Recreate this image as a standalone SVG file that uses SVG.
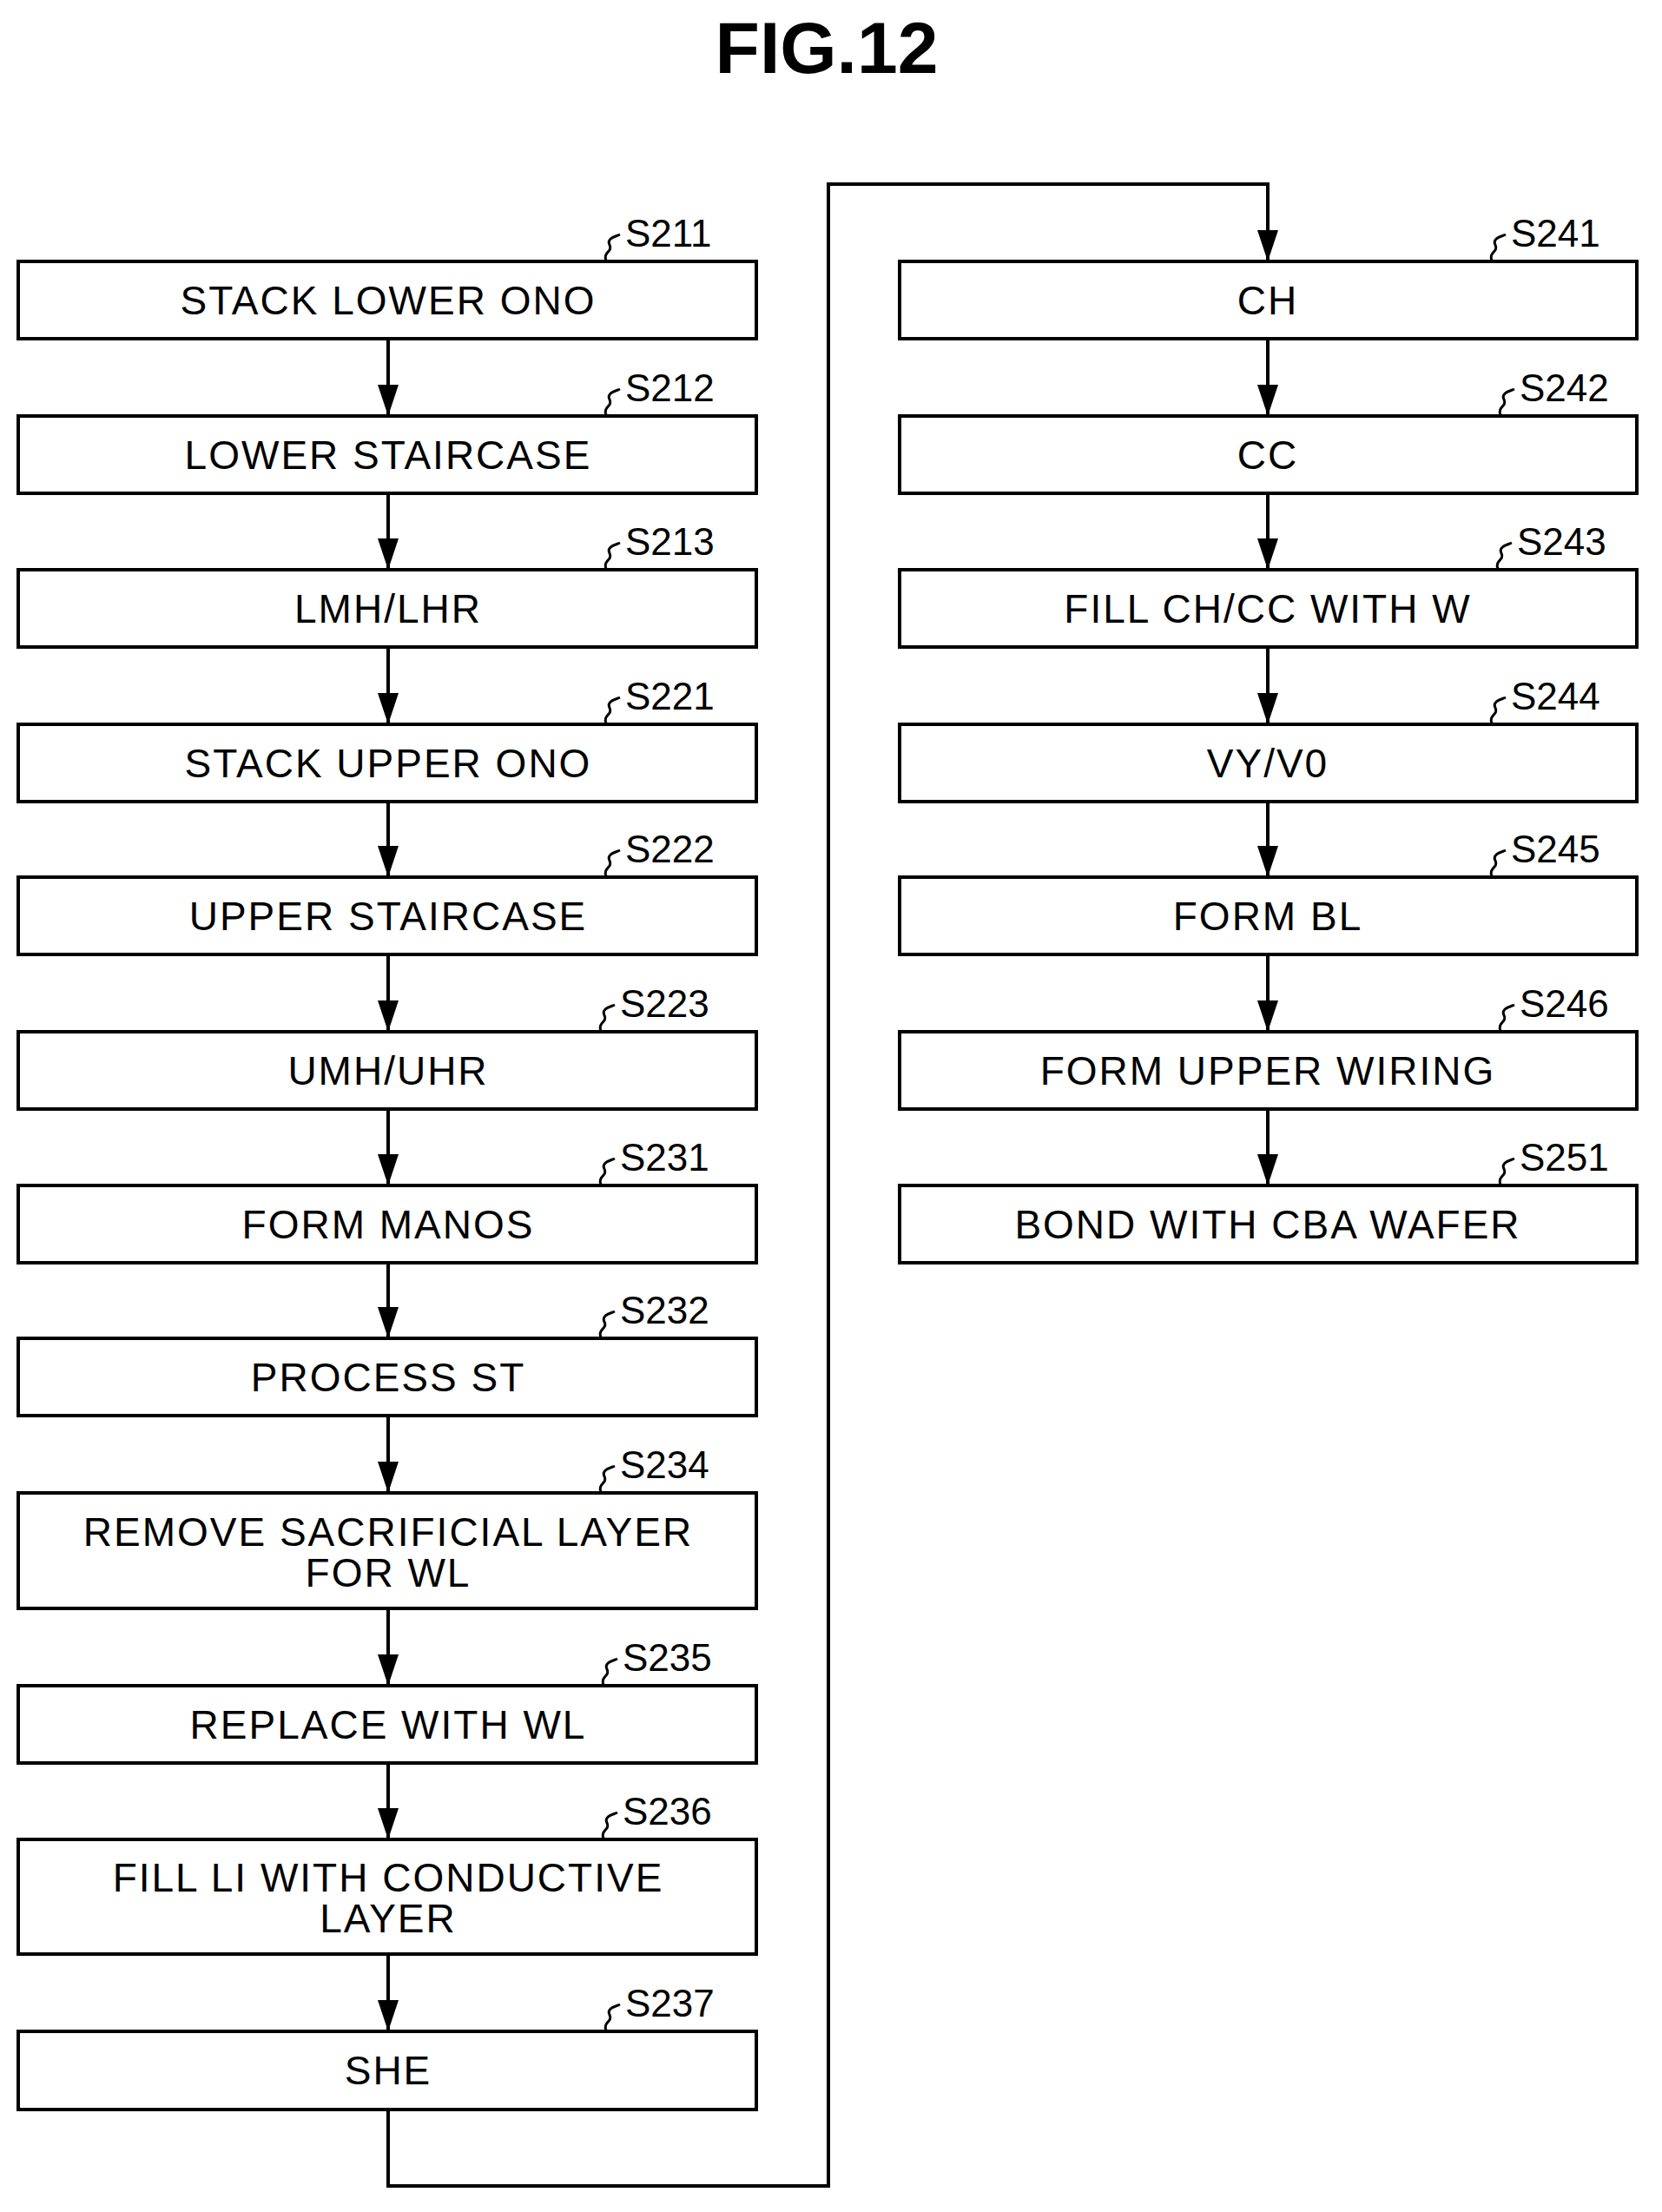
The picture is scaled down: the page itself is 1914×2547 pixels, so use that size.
<svg xmlns="http://www.w3.org/2000/svg" width="1914" height="2547" viewBox="0 0 1914 2547">
<defs>
<style>
.b{fill:#fff;stroke:#000;stroke-width:4}
.t{font-family:"Liberation Sans",Arial,sans-serif;font-size:46px;letter-spacing:2px;text-anchor:middle;fill:#000}
.s{font-family:"Liberation Sans",Arial,sans-serif;font-size:44px;fill:#000}
.q{fill:none;stroke:#000;stroke-width:3}
</style>
</defs>
<rect width="1914" height="2547" fill="#fff"/>
<text x="952" y="84" font-family="Liberation Sans,Arial,sans-serif" font-size="84" font-weight="bold" text-anchor="middle">FIG.12</text>
<g id="connectors" fill="#000" stroke="#000" stroke-width="4">
<path d="M447 390V479M447 568V656M447 745V834M447 923V1010M447 1099V1188M447 1277V1365M447 1454V1541M447 1630V1719M447 1852V1941M447 2030V2118M447 2250V2339M447 2429V2517H954V212H1460V301M1460 390V479M1460 568V656M1460 745V834M1460 923V1010M1460 1099V1188M1460 1277V1365" fill="none"/>
<g stroke="none">
<path d="M435 443L447 479L459 443z"/><path d="M435 620L447 656L459 620z"/><path d="M435 798L447 834L459 798z"/><path d="M435 974L447 1010L459 974z"/><path d="M435 1152L447 1188L459 1152z"/><path d="M435 1329L447 1365L459 1329z"/><path d="M435 1505L447 1541L459 1505z"/><path d="M435 1683L447 1719L459 1683z"/><path d="M435 1905L447 1941L459 1905z"/><path d="M435 2082L447 2118L459 2082z"/><path d="M435 2303L447 2339L459 2303z"/>
<path d="M1448 265L1460 301L1472 265z"/><path d="M1448 443L1460 479L1472 443z"/><path d="M1448 620L1460 656L1472 620z"/><path d="M1448 798L1460 834L1472 798z"/><path d="M1448 974L1460 1010L1472 974z"/><path d="M1448 1152L1460 1188L1472 1152z"/><path d="M1448 1329L1460 1365L1472 1329z"/>
</g>
</g>
<g id="S211"><rect class="b" x="21" y="301" width="850" height="89"/><text class="t" x="447" y="362">STACK LOWER ONO</text><path class="q" d="M698 300c-4-10 8-10 4-18s8-10 12-12"/><text class="s" x="720" y="284">S211</text></g>
<g id="S212"><rect class="b" x="21" y="479" width="850" height="89"/><text class="t" x="447" y="540">LOWER STAIRCASE</text><path class="q" d="M698 478c-4-10 8-10 4-18s8-10 12-12"/><text class="s" x="720" y="462">S212</text></g>
<g id="S213"><rect class="b" x="21" y="656" width="850" height="89"/><text class="t" x="447" y="717">LMH/LHR</text><path class="q" d="M698 655c-4-10 8-10 4-18s8-10 12-12"/><text class="s" x="720" y="639">S213</text></g>
<g id="S221"><rect class="b" x="21" y="834" width="850" height="89"/><text class="t" x="447" y="895">STACK UPPER ONO</text><path class="q" d="M698 833c-4-10 8-10 4-18s8-10 12-12"/><text class="s" x="720" y="817">S221</text></g>
<g id="S222"><rect class="b" x="21" y="1010" width="850" height="89"/><text class="t" x="447" y="1071">UPPER STAIRCASE</text><path class="q" d="M698 1009c-4-10 8-10 4-18s8-10 12-12"/><text class="s" x="720" y="993">S222</text></g>
<g id="S223"><rect class="b" x="21" y="1188" width="850" height="89"/><text class="t" x="447" y="1249">UMH/UHR</text><path class="q" d="M692 1187c-4-10 8-10 4-18s8-10 12-12"/><text class="s" x="714" y="1171">S223</text></g>
<g id="S231"><rect class="b" x="21" y="1365" width="850" height="89"/><text class="t" x="447" y="1426">FORM MANOS</text><path class="q" d="M692 1364c-4-10 8-10 4-18s8-10 12-12"/><text class="s" x="714" y="1348">S231</text></g>
<g id="S232"><rect class="b" x="21" y="1541" width="850" height="89"/><text class="t" x="447" y="1602">PROCESS ST</text><path class="q" d="M692 1540c-4-10 8-10 4-18s8-10 12-12"/><text class="s" x="714" y="1524">S232</text></g>
<g id="S234"><rect class="b" x="21" y="1719" width="850" height="133"/><text class="t" x="447" y="1780">REMOVE SACRIFICIAL LAYER</text><text class="t" x="447" y="1827">FOR WL</text><path class="q" d="M692 1718c-4-10 8-10 4-18s8-10 12-12"/><text class="s" x="714" y="1702">S234</text></g>
<g id="S235"><rect class="b" x="21" y="1941" width="850" height="89"/><text class="t" x="447" y="2002">REPLACE WITH WL</text><path class="q" d="M695 1940c-4-10 8-10 4-18s8-10 12-12"/><text class="s" x="717" y="1924">S235</text></g>
<g id="S236"><rect class="b" x="21" y="2118" width="850" height="132"/><text class="t" x="447" y="2178">FILL LI WITH CONDUCTIVE</text><text class="t" x="447" y="2225">LAYER</text><path class="q" d="M695 2117c-4-10 8-10 4-18s8-10 12-12"/><text class="s" x="717" y="2101">S236</text></g>
<g id="S237"><rect class="b" x="21" y="2339" width="850" height="90"/><text class="t" x="447" y="2400">SHE</text><path class="q" d="M698 2338c-4-10 8-10 4-18s8-10 12-12"/><text class="s" x="720" y="2322">S237</text></g>
<g id="S241"><rect class="b" x="1036" y="301" width="849" height="89"/><text class="t" x="1460" y="362">CH</text><path class="q" d="M1718 300c-4-10 8-10 4-18s8-10 12-12"/><text class="s" x="1740" y="284">S241</text></g>
<g id="S242"><rect class="b" x="1036" y="479" width="849" height="89"/><text class="t" x="1460" y="540">CC</text><path class="q" d="M1728 478c-4-10 8-10 4-18s8-10 12-12"/><text class="s" x="1750" y="462">S242</text></g>
<g id="S243"><rect class="b" x="1036" y="656" width="849" height="89"/><text class="t" x="1460" y="717">FILL CH/CC WITH W</text><path class="q" d="M1725 655c-4-10 8-10 4-18s8-10 12-12"/><text class="s" x="1747" y="639">S243</text></g>
<g id="S244"><rect class="b" x="1036" y="834" width="849" height="89"/><text class="t" x="1460" y="895">VY/V0</text><path class="q" d="M1718 833c-4-10 8-10 4-18s8-10 12-12"/><text class="s" x="1740" y="817">S244</text></g>
<g id="S245"><rect class="b" x="1036" y="1010" width="849" height="89"/><text class="t" x="1460" y="1071">FORM BL</text><path class="q" d="M1718 1009c-4-10 8-10 4-18s8-10 12-12"/><text class="s" x="1740" y="993">S245</text></g>
<g id="S246"><rect class="b" x="1036" y="1188" width="849" height="89"/><text class="t" x="1460" y="1249">FORM UPPER WIRING</text><path class="q" d="M1728 1187c-4-10 8-10 4-18s8-10 12-12"/><text class="s" x="1750" y="1171">S246</text></g>
<g id="S251"><rect class="b" x="1036" y="1365" width="849" height="89"/><text class="t" x="1460" y="1426">BOND WITH CBA WAFER</text><path class="q" d="M1728 1364c-4-10 8-10 4-18s8-10 12-12"/><text class="s" x="1750" y="1348">S251</text></g>
</svg>
